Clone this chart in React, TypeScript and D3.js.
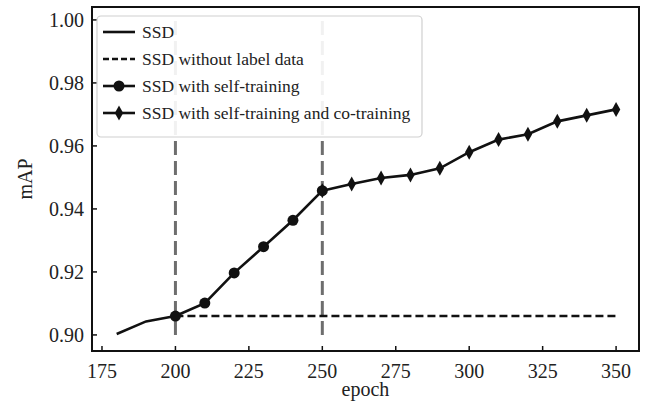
import * as d3 from 'd3';

// epochs / mAP values
const ssdEpochs = [180, 190, 200];
const ssdMap = [0.9003, 0.9043, 0.906];

const noLabelEpochs = [200, 350];
const noLabelMap = [0.906, 0.906];

const selfEpochs = [200, 210, 220, 230, 240, 250];
const selfMap = [0.906, 0.9101, 0.9197, 0.928, 0.9364, 0.9458];

const coEpochs = [250, 260, 270, 280, 290, 300, 310, 320, 330, 340, 350];
const coMap = [0.9458, 0.9479, 0.9498, 0.9508, 0.9529, 0.958, 0.962, 0.9637, 0.9678, 0.9697, 0.9716];

const markerEpochs = [200, 250];

const xTicks = [175, 200, 225, 250, 275, 300, 325, 350];
const yTicks = [0.9, 0.92, 0.94, 0.96, 0.98, 1.0];

const legendLabels = [
  'SSD',
  'SSD without label data',
  'SSD with self-training',
  'SSD with self-training and co-training',
];

const W = 645;
const H = 402;
const FONT = '"Liberation Serif", "Times New Roman", serif';

const frame = { left: 92, right: 639, top: 7, bottom: 351 };

const x = d3.scaleLinear().domain([171.6, 357.8]).range([frame.left, frame.right]);
const y = d3.scaleLinear().domain([0.8949, 1.0041]).range([frame.bottom, frame.top]);

const line = d3.line<[number, number]>()
  .x(d => x(d[0]))
  .y(d => y(d[1]));

const zip = (a: number[], b: number[]) => a.map((v, i) => [v, b[i]] as [number, number]);

const diamond = (cx: number, cy: number, w = 4.2, h = 7.5) =>
  `M${cx},${cy - h}L${cx + w},${cy}L${cx},${cy + h}L${cx - w},${cy}Z`;

export default function App() {
  const ssd = zip(ssdEpochs, ssdMap);
  const self = zip(selfEpochs, selfMap);
  const co = zip(coEpochs, coMap);
  const noLabel = zip(noLabelEpochs, noLabelMap);

  const leg = { x: 97, y: 16, w: 325, h: 121 };
  const rowY = (i: number) => leg.y + 16 + i * 27;

  return (
    <svg width={W} height={H} style={{ position: 'absolute', left: 0, top: 0, background: '#fff' }}>
      <rect width={W} height={H} fill="#fff" />

      {/* vertical markers */}
      {markerEpochs.map(e => (
        <line key={e} x1={x(e)} x2={x(e)} y1={y(0.9)} y2={y(1.0)}
          stroke="#6e6e6e" strokeWidth={3} strokeDasharray="14,6" />
      ))}

      {/* SSD without label data */}
      <path d={line(noLabel) ?? ''} fill="none" stroke="#111" strokeWidth={2.5} strokeDasharray="8,4" />

      {/* SSD */}
      <path d={line(ssd) ?? ''} fill="none" stroke="#111" strokeWidth={2.6} />
      {/* self-training */}
      <path d={line(self) ?? ''} fill="none" stroke="#111" strokeWidth={2.6} />
      {self.map(d => (
        <circle key={d[0]} cx={x(d[0])} cy={y(d[1])} r={5.5} fill="#111" />
      ))}
      {/* co-training */}
      <path d={line(co) ?? ''} fill="none" stroke="#111" strokeWidth={2.6} />
      {co.map(d => (
        <path key={d[0]} d={diamond(x(d[0]), y(d[1]))} fill="#111" />
      ))}

      {/* frame */}
      <rect x={frame.left} y={frame.top} width={frame.right - frame.left} height={frame.bottom - frame.top}
        fill="none" stroke="#111" strokeWidth={2} />

      {/* x ticks */}
      {xTicks.map(t => (
        <g key={t}>
          <line x1={x(t)} x2={x(t)} y1={frame.bottom} y2={frame.bottom - 5} stroke="#111" strokeWidth={1.5} />
          <text x={x(t)} y={frame.bottom + 27} textAnchor="middle" fontFamily={FONT} fontSize={20} fill="#222">{t}</text>
        </g>
      ))}
      {/* y ticks */}
      {yTicks.map(t => (
        <g key={t}>
          <line x1={frame.left} x2={frame.left + 5} y1={y(t)} y2={y(t)} stroke="#111" strokeWidth={1.5} />
          <text x={frame.left - 8} y={y(t)} dy="0.35em" textAnchor="end" fontFamily={FONT} fontSize={20} fill="#222">{t.toFixed(2)}</text>
        </g>
      ))}

      {/* axis labels */}
      <text x={(frame.left + frame.right) / 2} y={396} textAnchor="middle" fontFamily={FONT} fontSize={20} fill="#222">epoch</text>
      <text transform={`translate(32,${(frame.top + frame.bottom) / 2}) rotate(-90)`} textAnchor="middle"
        fontFamily={FONT} fontSize={20} fill="#222">mAP</text>

      {/* legend */}
      <rect x={leg.x} y={leg.y} width={leg.w} height={leg.h} rx={4} fill="#fff" fillOpacity={0.9}
        stroke="#d0d0d0" strokeWidth={1.2} />
      {legendLabels.map((lab, i) => {
        const cy = rowY(i);
        const x0 = leg.x + 6;
        const x1 = leg.x + 38;
        const cx = (x0 + x1) / 2;
        return (
          <g key={lab}>
            <line x1={x0} x2={x1} y1={cy} y2={cy} stroke="#111" strokeWidth={i === 1 ? 2.5 : 2.6}
              strokeDasharray={i === 1 ? '6,3' : undefined} />
            {i === 2 && <circle cx={cx} cy={cy} r={5.5} fill="#111" />}
            {i === 3 && <path d={diamond(cx, cy)} fill="#111" />}
            <text x={leg.x + 45} y={cy} dy="0.35em" fontFamily={FONT} fontSize={17.5} fill="#222">{lab}</text>
          </g>
        );
      })}
    </svg>
  );
}
